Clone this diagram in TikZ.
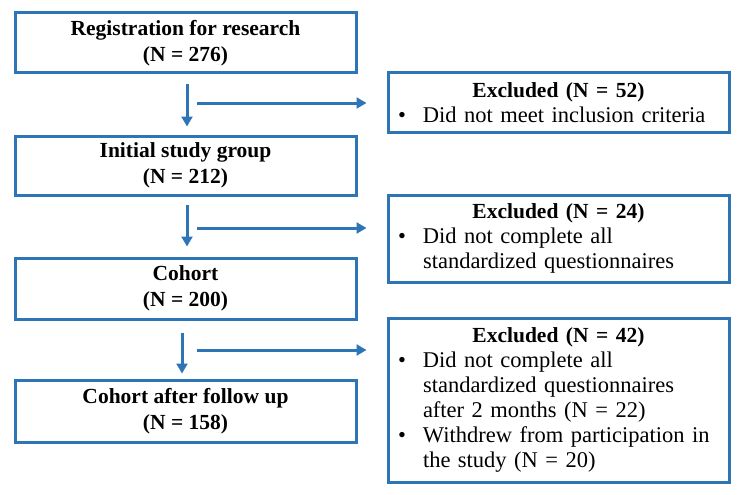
\documentclass[tikz,border=0pt]{standalone}
\usepackage{fontspec}
\setmainfont{Liberation Serif}
\usetikzlibrary{arrows.meta}
\definecolor{fblue}{RGB}{46,117,182}
\newcommand\ttl[1]{\makebox[325pt]{\fontsize{21.5}{25}\selectfont\bfseries #1}}
\newcommand\bul{\makebox[27pt][l]{\hspace*{2pt}\textbullet}}
\newcommand\ind{\hspace*{27pt}}
\tikzset{
 lbox/.style={draw=fblue, line width=3pt, minimum width=341pt, align=center, inner sep=0pt, font=\fontsize{21.5}{26}\selectfont\bfseries},
 rbox/.style={draw=fblue, line width=3pt, text width=325pt, inner xsep=8pt, inner ysep=0pt, align=left, font=\fontsize{22.5}{25}\selectfont},
 arr/.style={draw=fblue, line width=3pt, -{Triangle[length=10pt,width=11pt]}},
}
\begin{document}
\begin{tikzpicture}[x=1pt,y=-1pt]
\useasboundingbox (0,0) rectangle (742,495);
\node[lbox, minimum height=60pt] (b1) at (185.5,43) {Registration for research\\(N = 276)};
\node[lbox, minimum height=59pt] (b2) at (185.5,165.5) {Initial study group\\(N = 212)};
\node[lbox, minimum height=61pt] (b3) at (185.5,288.5) {Cohort\\(N = 200)};
\node[lbox, minimum height=62pt] (b4) at (185.5,411) {Cohort after follow up\\(N = 158)};
\node[rbox, minimum height=59pt] (e1) at (558.5,102.5) {\ttl{Excluded (N = 52)}\\\bul Did not meet inclusion criteria};
\node[rbox, minimum height=87pt] (e2) at (558.5,238.5) {\ttl{Excluded (N = 24)}\\\bul Did not complete all\\\ind standardized questionnaires};
\node[rbox, minimum height=164pt] (e3) at (558.5,400) {\ttl{Excluded (N = 42)}\\\bul Did not complete all\\\ind standardized questionnaires\\\ind after 2 months (N = 22)\\\bul Withdrew from participation in\\\ind the study (N = 20)};
\draw[arr, shorten <=10pt, shorten >=8pt] ([xshift=1.5pt]b1.south) -- ([xshift=1.5pt]b2.north);
\draw[arr, shorten <=8pt, shorten >=10pt] ([xshift=1.5pt]b2.south) -- ([xshift=1.5pt]b3.north);
\draw[arr, shorten <=12pt, shorten >=5pt] ([xshift=-3.5pt]b3.south) -- ([xshift=-3.5pt]b4.north);
\coordinate (h1) at (197,103);
\coordinate (h2) at (197,228);
\coordinate (h3) at (197,350);
\draw[arr, shorten >=20pt] (h1) -- (h1 -| e1.west);
\draw[arr, shorten >=20pt] (h2) -- (h2 -| e2.west);
\draw[arr, shorten >=20pt] (h3) -- (h3 -| e3.west);
\end{tikzpicture}
\end{document}
